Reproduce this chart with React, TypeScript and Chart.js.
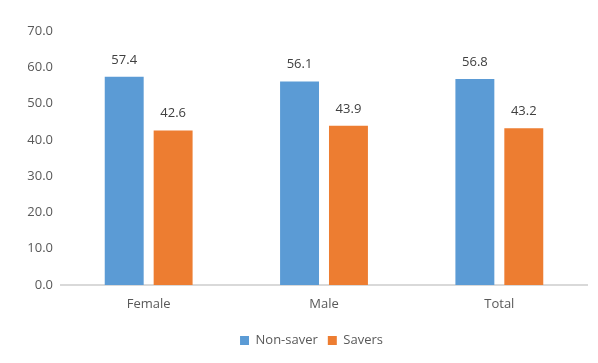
import React, { useEffect, useRef } from "react";
import { Chart, registerables } from "chart.js";

Chart.register(...registerables);

const categories = ["Female", "Male", "Total"];
const nonSaver = [57.4, 56.1, 56.8];
const savers = [42.6, 43.9, 43.2];
const yTicks = [0, 10, 20, 30, 40, 50, 60, 70];

const FONT = "'Open Sans', 'Noto Sans', sans-serif";

// Writes each bar's value above it, one decimal place.
const valueLabels = {
  id: "valueLabels",
  afterDatasetsDraw(chart: any) {
    const { ctx } = chart;
    ctx.save();
    ctx.font = `13px ${FONT}`;
    ctx.fillStyle = "#404040";
    ctx.textAlign = "center";
    ctx.textBaseline = "alphabetic";
    chart.data.datasets.forEach((ds: any, i: number) => {
      const meta = chart.getDatasetMeta(i);
      meta.data.forEach((bar: any, j: number) => {
        ctx.fillText(Number(ds.data[j]).toFixed(1), bar.x, bar.y - 13);
      });
    });
    ctx.restore();
  },
};

// Nudges the legend row so it sits centred under the full chart frame.
const legendOffset = {
  id: "legendOffset",
  beforeDraw(chart: any) {
    const lg = chart.legend;
    if (lg && !lg._shifted) {
      lg.left += 14;
      lg.right += 14;
      lg._shifted = true;
    }
  },
};

export default function App() {
  const ref = useRef<HTMLCanvasElement>(null);

  useEffect(() => {
    if (!ref.current) return;
    const chart = new Chart(ref.current, {
      type: "bar",
      data: {
        labels: categories,
        datasets: [
          {
            label: "Non-saver",
            data: nonSaver,
            backgroundColor: "#5B9BD5",
            barPercentage: 0.796,
            categoryPercentage: 0.558,
          },
          {
            label: "Savers",
            data: savers,
            backgroundColor: "#ED7D31",
            barPercentage: 0.796,
            categoryPercentage: 0.558,
          },
        ],
      },
      options: {
        responsive: false,
        animation: false,
        layout: { padding: { top: 23, right: 28, bottom: 6, left: 0 } },
        plugins: {
          legend: {
            position: "bottom",
            labels: {
              boxWidth: 9,
              boxHeight: 9,
              padding: 10,
              color: "#595959",
              font: { family: FONT, size: 13 },
            },
          },
          tooltip: { enabled: false },
        },
        scales: {
          x: {
            grid: { display: false },
            border: { display: true, color: "#D9D9D9", width: 2 },
            ticks: {
              color: "#595959",
              padding: 3,
              font: { family: FONT, size: 13 },
            },
            afterFit(scale: any) {
              scale.height = 39;
            },
          },
          y: {
            min: 0,
            max: 70,
            afterBuildTicks(scale: any) {
              scale.ticks = yTicks.map((v) => ({ value: v }));
            },
            grid: { display: false, drawTicks: false },
            border: { display: false },
            ticks: {
              color: "#595959",
              padding: 8,
              font: { family: FONT, size: 13 },
              callback: (v: any) => Number(v).toFixed(1),
            },
            afterFit(scale: any) {
              scale.width = 53;
            },
          },
        },
      },
      plugins: [valueLabels, legendOffset],
    });
    return () => chart.destroy();
  }, []);

  return (
    <div
      style={{
        width: 590,
        height: 355,
        marginTop: -1,
        marginLeft: -1,
        overflow: "hidden",
        borderTop: "1px solid #D9D9D9",
        borderLeft: "1px solid #D9D9D9",
        background: "#fff",
      }}
    >
      <canvas ref={ref} width={607} height={355} style={{ display: "block" }} />
    </div>
  );
}
